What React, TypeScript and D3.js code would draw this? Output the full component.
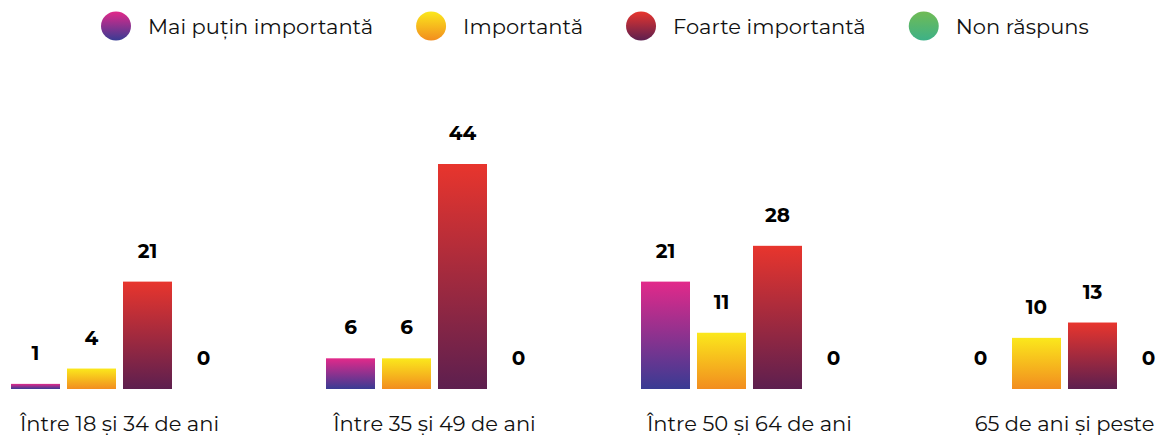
import React, { useEffect, useRef } from "react";
import * as d3 from "d3";

const categories = ["Între 18 și 34 de ani", "Între 35 și 49 de ani", "Între 50 și 64 de ani", "65 de ani și peste"];
const seriesNames = ["Mai puțin importantă", "Importantă", "Foarte importantă", "Non răspuns"];
const maiPutin = [1, 6, 21, 0];
const importanta = [4, 6, 11, 10];
const foarte = [21, 44, 28, 13];
const nonRaspuns = [0, 0, 0, 0];
const seriesValues = [maiPutin, importanta, foarte, nonRaspuns];
const gradientStops = [
  ["#e2298a", "#393b93"],
  ["#fbe81c", "#f28d1f"],
  ["#e8352d", "#5d1f4f"],
  ["#70bb55", "#3db187"],
];

const W = 1157;
const H = 435;
const FONT = "Montserrat, 'Open Sans', sans-serif";

export default function App() {
  const ref = useRef<SVGSVGElement>(null);
  useEffect(() => {
    const svg = d3.select(ref.current);
    svg.selectAll("*").remove();

    const defs = svg.append("defs");
    gradientStops.forEach((s, i) => {
      const g = defs.append("linearGradient").attr("id", `g${i}`).attr("x1", 0).attr("y1", 0).attr("x2", 0).attr("y2", 1);
      g.append("stop").attr("offset", "0%").attr("stop-color", s[0]);
      g.append("stop").attr("offset", "100%").attr("stop-color", s[1]);
    });

    const x0 = d3.scaleBand<string>().domain(categories).range([11, 11 + 315 * categories.length]).padding(0);
    const x1 = d3.scaleBand<string>().domain(seriesNames).range([0, 217]).paddingInner(0.125).paddingOuter(0);
    const y = d3.scaleLinear().domain([0, 44]).range([389, 164]);

    const groups = svg.selectAll("g.grp").data(categories).join("g").attr("class", "grp")
      .attr("transform", (d) => `translate(${x0(d)},0)`);

    groups.each(function (cat, ci) {
      const g = d3.select(this);
      seriesNames.forEach((s, si) => {
        const v = seriesValues[si][ci];
        const bx = x1(s)!;
        if (v > 0) {
          g.append("rect").attr("x", bx).attr("y", y(v)).attr("width", x1.bandwidth())
            .attr("height", y(0) - y(v)).attr("fill", `url(#g${si})`);
        }
        g.append("text").attr("x", bx + x1.bandwidth() / 2).attr("y", y(v) - 24)
          .attr("text-anchor", "middle").attr("font-family", FONT).attr("font-weight", 700)
          .attr("font-size", 20).attr("fill", "#000").text(String(v));
      });
      g.append("text").attr("x", 217 / 2).attr("y", 431).attr("text-anchor", "middle")
        .attr("font-family", FONT).attr("font-size", 21).attr("fill", "#111").text(cat);
    });

    // legend
    const leg = svg.append("g");
    let cx = 101;
    seriesNames.forEach((s, i) => {
      leg.append("ellipse").attr("cx", cx + 15).attr("cy", 26).attr("rx", 15).attr("ry", 14.5)
        .attr("fill", `url(#g${i})`);
      const t = leg.append("text").attr("x", cx + 47).attr("y", 33.5).attr("font-family", FONT)
        .attr("font-size", 21).attr("fill", "#111").text(s);
      const w = (t.node() as SVGTextElement).getComputedTextLength();
      cx = cx + 47 + w + 43;
    });
  }, []);
  return (
    <svg ref={ref} width={W} height={H} style={{ position: "absolute", left: 0, top: 0, background: "#fff" }} />
  );
}
